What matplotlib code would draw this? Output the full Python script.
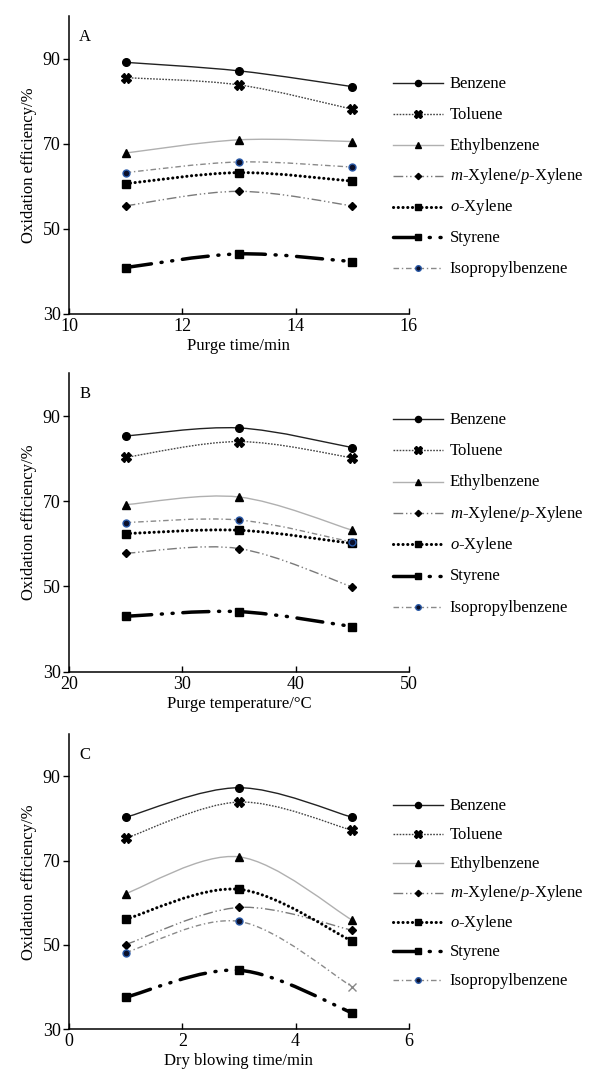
import matplotlib

matplotlib.use("Agg")
import matplotlib.pyplot as plt
import numpy as np
from matplotlib.lines import Line2D
from matplotlib.patches import PathPatch
from matplotlib.path import Path

plt.rcParams["font.family"] = ["Liberation Serif", "DejaVu Serif"]
plt.rcParams["font.size"] = 12
plt.rcParams["mathtext.fontset"] = "custom"
plt.rcParams["mathtext.rm"] = "Liberation Serif"
plt.rcParams["mathtext.it"] = "Liberation Serif:italic"

# ---- data ----
compounds = [
    "Benzene",
    "Toluene",
    "Ethylbenzene",
    "m-Xylene/p-Xylene",
    "o-Xylene",
    "Styrene",
    "Isopropylbenzene",
]
legend_labels = [
    "Benzene",
    "Toluene",
    "Ethylbenzene",
    r"$\it{m}$-Xylene/$\it{p}$-Xylene",
    r"$\it{o}$-Xylene",
    "Styrene",
    "Isopropylbenzene",
]

purge_time = [11, 13, 15]
eff_purge_time = [
    [89.1, 87.1, 83.4],
    [85.5, 83.8, 78.1],
    [67.8, 70.9, 70.5],
    [55.4, 58.8, 55.4],
    [60.6, 63.2, 61.2],
    [40.9, 44.1, 42.3],
    [63.2, 65.7, 64.5],
]

purge_temp = [25, 35, 45]
eff_purge_temp = [
    [85.3, 87.2, 82.6],
    [80.3, 84.0, 80.2],
    [69.2, 71.0, 63.2],
    [57.8, 58.9, 49.9],
    [62.4, 63.2, 60.1],
    [43.0, 44.1, 40.6],
    [65.0, 65.6, 60.4],
]

dry_time = [1, 3, 5]
eff_dry_time = [
    [80.3, 87.3, 80.3],
    [75.3, 83.9, 77.2],
    [62.2, 70.9, 55.9],
    [50.1, 58.9, 53.5],
    [56.1, 63.2, 50.9],
    [37.6, 44.0, 33.9],
    [48.2, 55.6, 40.1],
]

panels = [
    ("A", purge_time, eff_purge_time, "Purge time/min", (10, 16), [10, 12, 14, 16]),
    ("B", purge_temp, eff_purge_temp, "Purge temperature/°C", (20, 50), [20, 30, 40, 50]),
    ("C", dry_time, eff_dry_time, "Dry blowing time/min", (0, 6), [0, 2, 4, 6]),
]

# ---- styles ----
styles = [
    dict(color="#222222", lw=1.0, ls="-", marker="o", ms=5.5, mfc="black", mec="black"),
    dict(color="#444444", lw=1.0, ls=(0, (1.2, 1.0)), marker="X", ms=7, mfc="black", mec="black"),
    dict(color="#b0b0b0", lw=1.0, ls="-", marker="^", ms=6, mfc="black", mec="black"),
    dict(color="#7a7a7a", lw=1.0, ls=(0, (7, 2, 1, 2, 1, 2)), marker="D", ms=4, mfc="black", mec="black"),
    dict(color="black", lw=2.2, ls=(0, (0.05, 1.5)), marker="s", ms=6, mfc="black", mec="black"),
    dict(color="black", lw=2.5, ls=(0, (7.5, 2.8, 0.3, 2.8, 0.3, 2.8)), marker="s", ms=5.5, mfc="black", mec="black"),
    dict(color="#8a8a8a", lw=1.0, ls=(0, (4, 2, 1, 2)), marker="o", ms=5, mfc="#0a0f2a", mec="#2a5aa8"),
]

# legend placement per panel (axes fraction): first row y, row step
legend_rows = {"A": (0.774, 0.1034), "B": (0.847, 0.1049), "C": (0.760, 0.099)}


def smooth_path(xs, ys):
    # excel-like smoothed line: cubic bezier segments through the data points
    pts = np.column_stack([xs, ys]).astype(float)
    n = len(pts)
    verts = [pts[0]]
    codes = [Path.MOVETO]
    for i in range(n - 1):
        p_prev = pts[i - 1] if i > 0 else pts[i]
        p_next = pts[i + 2] if i + 2 < n else pts[i + 1]
        c1 = pts[i] + (pts[i + 1] - p_prev) / 6.0
        c2 = pts[i + 1] - (p_next - pts[i]) / 6.0
        verts += [c1, c2, pts[i + 1]]
        codes += [Path.CURVE4] * 3
    return Path(verts, codes)


def capstyle(st):
    return "round" if st["lw"] > 2 else "butt"


fig = plt.figure(figsize=(5.92, 10.77), dpi=100)
axes_rects = [
    (0.1166, 0.7085, 0.574, 0.2767),
    (0.1166, 0.3763, 0.574, 0.2770),
    (0.1166, 0.0443, 0.574, 0.2740),
]

for (letter, xs, series, xlabel, xlim, xticks), rect in zip(panels, axes_rects):
    ax = fig.add_axes(rect)
    for name, ys, st in zip(compounds, series, styles):
        patch = PathPatch(
            smooth_path(xs, ys),
            fill=False,
            edgecolor=st["color"],
            lw=st["lw"],
            linestyle=st["ls"],
            capstyle=capstyle(st),
            zorder=2,
        )
        ax.add_patch(patch)
        if letter == "C" and name == "Isopropylbenzene":
            ax.plot(xs[:-1], ys[:-1], ls="none", marker=st["marker"], ms=st["ms"],
                    mfc=st["mfc"], mec=st["mec"], zorder=3)
            ax.plot(xs[-1:], ys[-1:], ls="none", marker="x", ms=6, mec="#888888", mew=1.0, zorder=3)
        else:
            ax.plot(xs, ys, ls="none", marker=st["marker"], ms=st["ms"],
                    mfc=st["mfc"], mec=st["mec"], zorder=3)

    ax.set_xlim(*xlim)
    ax.set_ylim(30, 100)
    ax.set_xticks(xticks)
    ax.set_yticks([30, 50, 70, 90])
    ax.spines["top"].set_visible(False)
    ax.spines["right"].set_visible(False)
    ax.spines["left"].set_linewidth(1.1)
    ax.spines["bottom"].set_linewidth(1.1)
    ax.tick_params(axis="x", direction="in", length=4, width=1.0, pad=3, labelsize=13)
    ax.tick_params(axis="y", direction="out", length=4, width=1.0, pad=2, labelsize=13)
    ax.set_xlabel(xlabel, fontsize=12, labelpad=2)
    ax.set_ylabel("Oxidation efficiency/%", fontsize=12, labelpad=4)
    ax.text(0.03, 0.93, letter, transform=ax.transAxes, fontsize=12, ha="left", va="center")

    # hand-placed legend so rows are evenly spaced (mathtext labels change row height)
    y0, step = legend_rows[letter]
    for k, (label, st) in enumerate(zip(legend_labels, styles)):
        y = y0 - k * step
        handle = Line2D(
            [0.953, 1.0265, 1.10], [y, y, y],
            transform=ax.transAxes, clip_on=False,
            color=st["color"], lw=st["lw"], ls=st["ls"],
            dash_capstyle=capstyle(st),
            marker=st["marker"], markevery=[1], ms=st["ms"] * 0.8,
            mfc=st["mfc"], mec=st["mec"],
        )
        ax.add_line(handle)
        ax.text(1.12, y - 0.016, label, transform=ax.transAxes, fontsize=12,
                ha="left", va="baseline", clip_on=False)

fig.savefig("out.png", dpi=100)
